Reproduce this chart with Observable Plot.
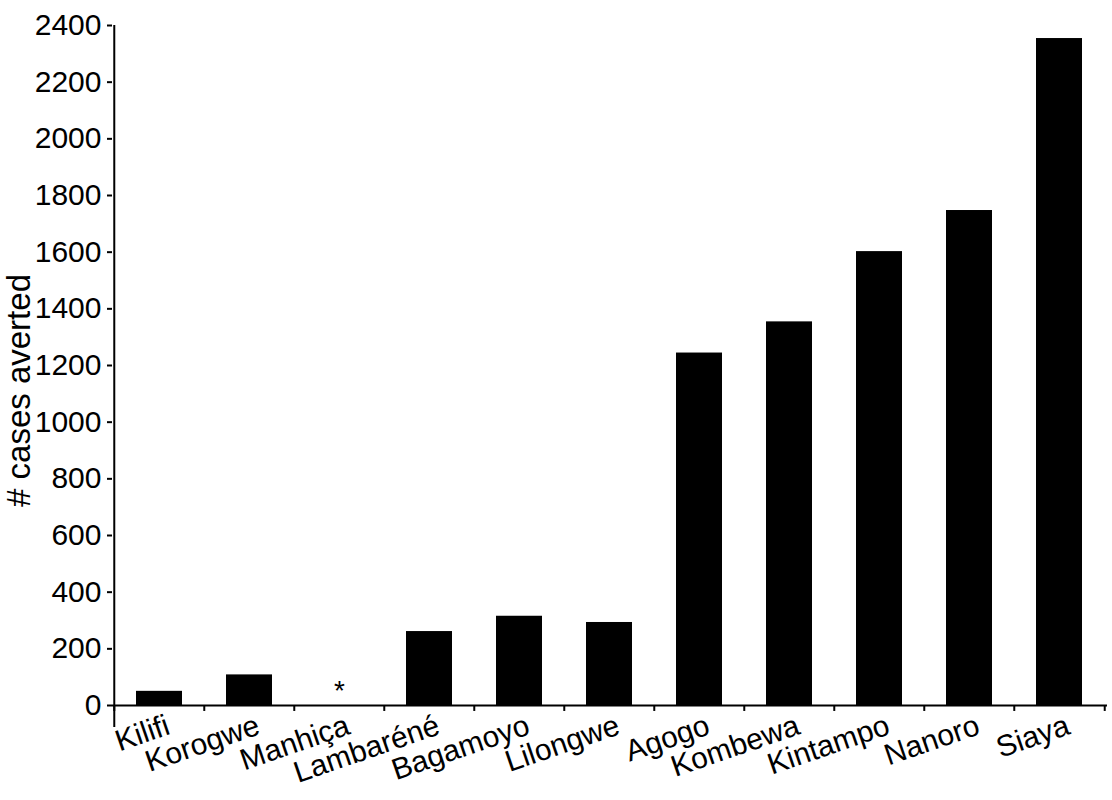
<!DOCTYPE html>
<html>
<head>
<meta charset="utf-8">
<script src="https://cdn.jsdelivr.net/npm/d3@7"></script>
<script src="https://cdn.jsdelivr.net/npm/@observablehq/plot@0.6"></script>
<style>
  html, body { margin: 0; padding: 0; background: #fff; }
  #chart svg { display: block; }
</style>
</head>
<body>
<div id="chart"></div>
<script>
const sites = ["Kilifi", "Korogwe", "Manhiça", "Lambaréné", "Bagamoyo", "Lilongwe", "Agogo", "Kombewa", "Kintampo", "Nanoro", "Siaya"];
const casesAverted = [50, 108, 0, 261, 315, 293, 1244, 1354, 1602, 1747, 2354];
const yTicks = [0, 200, 400, 600, 800, 1000, 1200, 1400, 1600, 1800, 2000, 2200, 2400];
const yLabel = "# cases averted";
const noteSites = ["Manhiça"];
const noteText = ["*"];

const data = sites.map((s, i) => ({site: s, value: casesAverted[i]}));
const notes = noteSites.map((s, i) => ({site: s, text: noteText[i]}));

const W = 1112, H = 800;
const mL = 112, mR = 5, mT = 25, mB = 95;
const step = (W - mL - mR) / sites.length;
const font = "'Liberation Sans', Arial, Helvetica, sans-serif";

const chart = Plot.plot({
  width: W,
  height: H,
  marginLeft: mL,
  marginRight: mR,
  marginTop: mT,
  marginBottom: mB,
  style: {background: "#fff", fontFamily: font, color: "#000"},
  x: {type: "band", domain: sites, paddingInner: 0.484, paddingOuter: 0.242, axis: null},
  y: {domain: [0, 2400], axis: null},
  marks: [
    Plot.barY(data, {x: "site", y: "value", fill: "#000"}),
    // x axis line
    Plot.ruleY([0], {stroke: "#000", strokeWidth: 2}),
    // y axis line (extends a little below the x axis)
    Plot.ruleX([sites[0]], {x: d => d, dx: -step / 2, y1: -78, y2: 2400, stroke: "#000", strokeWidth: 2}),
    // x tick marks at band boundaries
    Plot.ruleX(sites, {x: d => d, dx: -step / 2, y1: 0, y2: -21, stroke: "#000", strokeWidth: 2}),
    Plot.ruleX([sites[sites.length - 1]], {x: d => d, dx: step / 2, y1: 0, y2: -21, stroke: "#000", strokeWidth: 2}),
    // y axis ticks & labels
    Plot.axisY({
      ticks: yTicks,
      tickSize: 5,
      tickPadding: 6,
      strokeWidth: 2,
      fontSize: 30,
      label: null,
      tickFormat: d => String(d),
      style: {letterSpacing: "3px"}
    }),
    // x category labels (rotated)
    Plot.text(sites, {
      x: d => d,
      y: () => 0,
      text: d => d,
      rotate: -19,
      textAnchor: "end",
      lineAnchor: "bottom",
      dx: 12,
      dy: 28,
      fontSize: 30,
      fill: "#000",
      style: {letterSpacing: "2.5px"}
    }),
    // asterisk annotation
    Plot.text(notes, {
      x: "site",
      y: () => 0,
      text: "text",
      textAnchor: "middle",
      lineAnchor: "bottom",
      dy: -6,
      fontSize: 28,
      fill: "#000"
    }),
    // y axis title
    Plot.text([yLabel], {
      frameAnchor: "left",
      text: d => d,
      rotate: -90,
      textAnchor: "middle",
      lineAnchor: "middle",
      dx: -93,
      dy: 25,
      fontSize: 33,
      fill: "#000"
    })
  ]
});

document.getElementById("chart").appendChild(chart);
</script>
</body>
</html>
